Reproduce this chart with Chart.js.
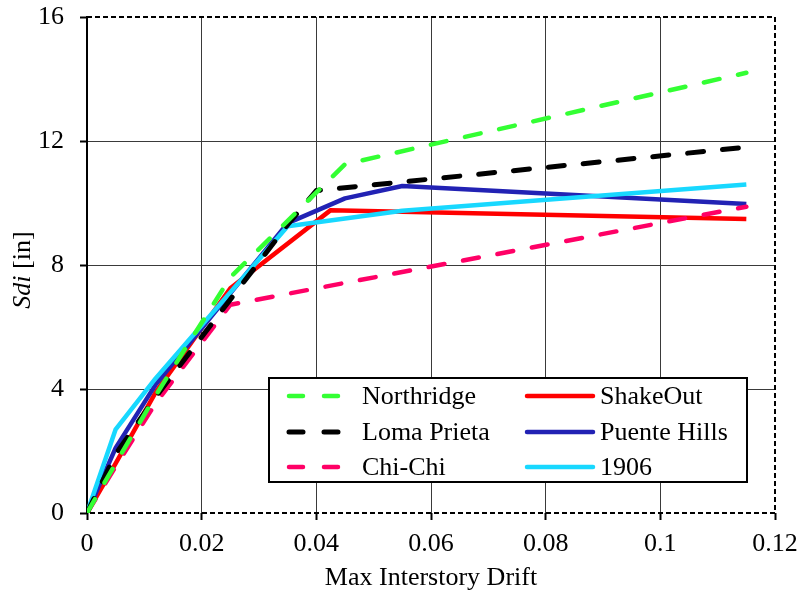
<!DOCTYPE html>
<html lang="en">
<head>
    <meta charset="UTF-8">
    <title>Sdi vs Max Interstory Drift</title>
    <script src="https://cdn.jsdelivr.net/npm/chart.js@4.4.0/dist/chart.umd.min.js"></script>
    <style>
        body { margin: 0; background: #fff; }
        #wrap { width: 798px; height: 594px; }
    </style>
</head>
<body>
    <div id="wrap"><canvas id="myChart" width="798" height="594"></canvas></div>
    <script>
        // data
        const seriesNames = ['Northridge', 'Loma Prieta', 'Chi-Chi', 'ShakeOut', 'Puente Hills', '1906'];

        const northridgeDrift = [0, 0.005, 0.012, 0.025, 0.045, 0.115];
        const northridgeSdi   = [0, 1.6, 3.8, 7.6, 11.25, 14.2];

        const lomaDrift = [0, 0.005, 0.012, 0.035, 0.04, 0.115];
        const lomaSdi   = [0, 1.9, 3.75, 9.3, 10.4, 11.8];

        const chichiDrift = [0, 0.005, 0.012, 0.025, 0.115];
        const chichiSdi   = [0, 1.5, 3.55, 6.72, 9.88];

        const shakeoutDrift = [0, 0.005, 0.012, 0.025, 0.0425, 0.115];
        const shakeoutSdi   = [0, 1.6, 3.9, 7.25, 9.77, 9.48];

        const puenteDrift = [0, 0.005, 0.012, 0.035, 0.045, 0.055, 0.115];
        const puenteSdi   = [0, 2.1, 4.15, 9.35, 10.15, 10.55, 9.97];

        const sf1906Drift = [0, 0.005, 0.012, 0.035, 0.055, 0.115];
        const sf1906Sdi   = [0, 2.7, 4.35, 9.25, 9.75, 10.6];

        const xTicks = [0, 0.02, 0.04, 0.06, 0.08, 0.1, 0.12];
        const yTicks = [0, 4, 8, 12, 16];

        const FONT = '"Liberation Serif", "Times New Roman", serif';
        const FSIZE = 26;

        let pts = (xs, ys) => xs.map((x, i) => ({ x: x, y: ys[i] }));

        let line = (label, xs, ys, color, dashed, width, order) => ({
            label: label,
            data: pts(xs, ys),
            borderColor: color,
            backgroundColor: color,
            borderWidth: width,
            borderDash: dashed ? [16, 19] : [],
            borderCapStyle: dashed ? 'round' : 'butt',
            borderJoinStyle: 'round',
            showLine: true,
            pointRadius: 0,
            tension: 0,
            order: order
        });

        // no extra label padding, so the plot area is set by layout.padding only
        let noPad = (s) => { s.paddingTop = 0; s.paddingBottom = 0; s.paddingLeft = 0; s.paddingRight = 0; };

        // legend inside the plot, two columns
        const legendBox = {
            id: 'legendBox',
            afterDraw(chart) {
                const ctx = chart.ctx;
                const box = { l: 269, t: 378, r: 747, b: 482 };
                const cols = [{ lx: 287, len: 55, tx: 362 }, { lx: 525, len: 70, tx: 600 }];
                const rows = [396, 432, 467];
                ctx.save();
                ctx.fillStyle = '#fff';
                ctx.fillRect(box.l, box.t, box.r - box.l, box.b - box.t);
                ctx.strokeStyle = '#000';
                ctx.lineWidth = 2;
                ctx.setLineDash([]);
                ctx.strokeRect(box.l, box.t, box.r - box.l, box.b - box.t);
                chart.data.datasets.forEach((ds, i) => {
                    const c = cols[Math.floor(i / 3)];
                    const y = rows[i % 3];
                    ctx.beginPath();
                    ctx.strokeStyle = ds.borderColor;
                    ctx.lineWidth = ds.borderWidth;
                    ctx.lineCap = 'round';
                    ctx.setLineDash(ds.borderDash.length ? [14, 21] : []);
                    ctx.moveTo(c.lx + 2, y);
                    ctx.lineTo(c.lx + c.len - 2, y);
                    ctx.stroke();
                    ctx.setLineDash([]);
                    ctx.fillStyle = '#000';
                    ctx.font = FSIZE + 'px ' + FONT;
                    ctx.textBaseline = 'middle';
                    ctx.textAlign = 'left';
                    ctx.fillText(ds.label, c.tx, y + 1);
                });
                ctx.restore();
            }
        };

        // dashed top/right/bottom frame + y axis title with italic Sdi
        const frame = {
            id: 'frame',
            beforeDatasetsDraw(chart) {
                const ctx = chart.ctx;
                const a = chart.chartArea;
                ctx.save();
                ctx.strokeStyle = '#000';
                ctx.lineWidth = 2;
                ctx.setLineDash([5, 3]);
                ctx.beginPath();
                ctx.moveTo(a.left, a.top);
                ctx.lineTo(a.right, a.top);
                ctx.lineTo(a.right, a.bottom);
                ctx.lineTo(a.left, a.bottom);
                ctx.stroke();
                ctx.setLineDash([]);
                ctx.beginPath();
                ctx.moveTo(a.left, a.top - 1);
                ctx.lineTo(a.left, a.bottom + 1);
                ctx.stroke();
                ctx.restore();
            },
            afterDraw(chart) {
                const ctx = chart.ctx;
                const a = chart.chartArea;
                ctx.save();
                ctx.translate(23, (a.top + a.bottom) / 2 + 5);
                ctx.rotate(-Math.PI / 2);
                ctx.fillStyle = '#000';
                ctx.textBaseline = 'middle';
                const ital = 'italic ' + FSIZE + 'px ' + FONT;
                const norm = FSIZE + 'px ' + FONT;
                ctx.font = ital;
                const w1 = ctx.measureText('Sdi').width;
                ctx.font = norm;
                const w2 = ctx.measureText(' [in]').width;
                let x0 = -(w1 + w2) / 2;
                ctx.font = ital;
                ctx.textAlign = 'left';
                ctx.fillText('Sdi', x0, 0);
                ctx.font = norm;
                ctx.fillText(' [in]', x0 + w1, 0);
                ctx.restore();
            }
        };

        const ctx = document.getElementById('myChart').getContext('2d');
        const myChart = new Chart(ctx, {
            type: 'scatter',
            data: {
                datasets: [
                    line(seriesNames[0], northridgeDrift, northridgeSdi, '#33ff33', true, 4.5, 1),
                    line(seriesNames[1], lomaDrift, lomaSdi, '#000000', true, 5, 2),
                    line(seriesNames[2], chichiDrift, chichiSdi, '#ff0066', true, 4.5, 3),
                    line(seriesNames[3], shakeoutDrift, shakeoutSdi, '#ff0000', false, 4.5, 6),
                    line(seriesNames[4], puenteDrift, puenteSdi, '#2222b4', false, 4.5, 5),
                    line(seriesNames[5], sf1906Drift, sf1906Sdi, '#18d8ff', false, 4.5, 4)
                ]
            },
            options: {
                responsive: false,
                animation: false,
                layout: { padding: { left: 0, top: 17, right: 23, bottom: 0 } },
                plugins: {
                    legend: { display: false },
                    tooltip: { enabled: false }
                },
                scales: {
                    x: {
                        type: 'linear',
                        min: xTicks[0],
                        max: xTicks[xTicks.length - 1],
                        afterBuildTicks: (s) => { s.ticks = xTicks.map(v => ({ value: v })); },
                        afterFit: (s) => { s.height = 81; noPad(s); },
                        ticks: {
                            color: '#000',
                            font: { family: FONT, size: FSIZE },
                            padding: 9,
                            maxRotation: 0,
                            callback: (v) => String(+v.toFixed(2))
                        },
                        grid: {
                            color: (c) => (c.index === 0 || c.index === xTicks.length - 1) ? 'rgba(0,0,0,0)' : '#3a3a3a',
                            lineWidth: 1,
                            tickLength: 7,
                            tickColor: '#000',
                            tickWidth: 2
                        },
                        border: { display: false },
                        title: {
                            display: true,
                            text: 'Max Interstory Drift',
                            color: '#000',
                            font: { family: FONT, size: FSIZE },
                            padding: { top: 0, bottom: 0 }
                        }
                    },
                    y: {
                        type: 'linear',
                        min: yTicks[0],
                        max: yTicks[yTicks.length - 1],
                        afterBuildTicks: (s) => { s.ticks = yTicks.map(v => ({ value: v })); },
                        afterFit: (s) => { s.width = 87; noPad(s); },
                        ticks: {
                            color: '#000',
                            font: { family: FONT, size: FSIZE },
                            padding: 16
                        },
                        grid: {
                            color: (c) => (c.index === 0 || c.index === yTicks.length - 1) ? 'rgba(0,0,0,0)' : '#3a3a3a',
                            lineWidth: 1,
                            tickLength: 7,
                            tickColor: '#000',
                            tickWidth: 2
                        },
                        border: { display: false }
                    }
                }
            },
            plugins: [frame, legendBox]
        });
    </script>
</body>
</html>
